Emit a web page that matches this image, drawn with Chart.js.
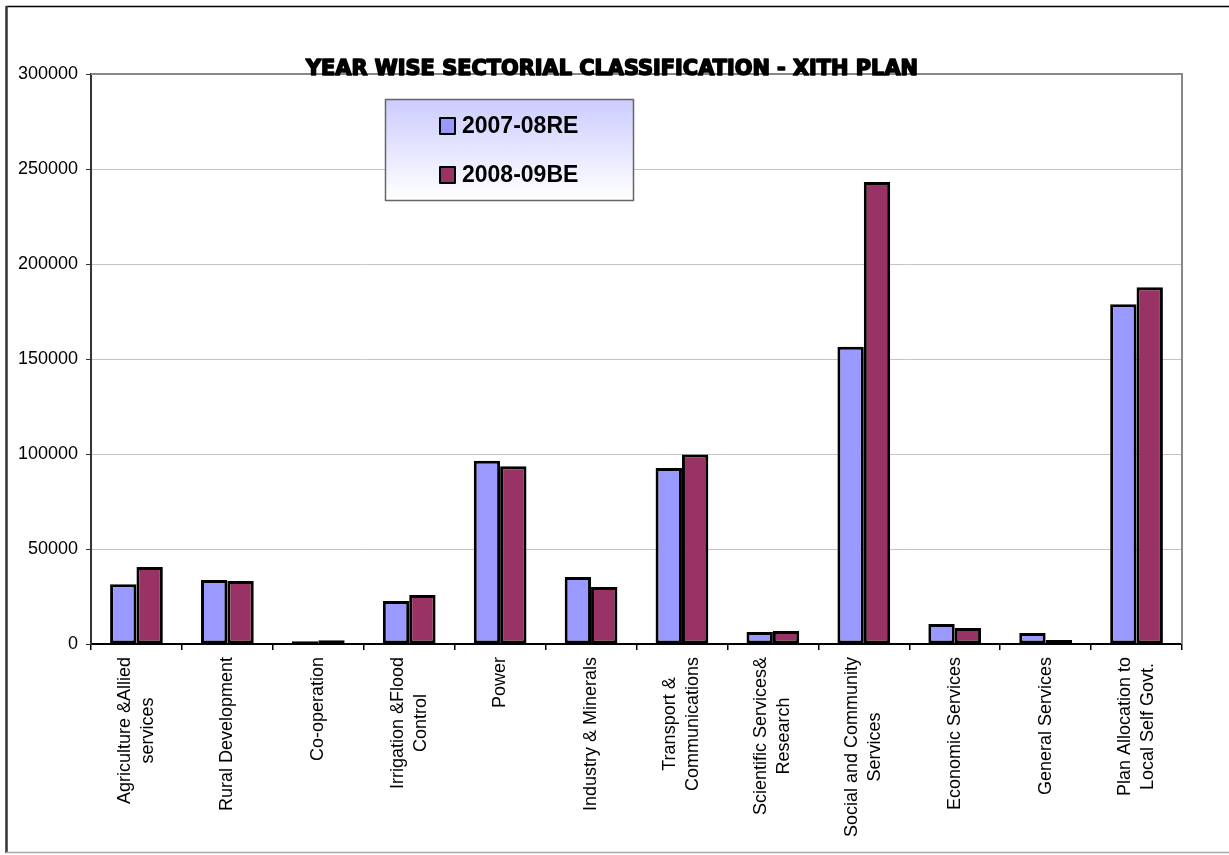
<!DOCTYPE html>
<html>
<head>
<meta charset="utf-8">
<title>Year wise sectorial classification - XIth Plan</title>
<script src="https://cdn.jsdelivr.net/npm/chart.js@4.4.1/dist/chart.umd.min.js"></script>
<style>
  html, body { margin: 0; padding: 0; background: #fff; }
  #wrap { width: 1229px; height: 855px; position: relative; }
</style>
</head>
<body>
<div id="wrap"><canvas id="chart" width="1229" height="855"></canvas></div>
<script>
const chartTitle = "YEAR WISE SECTORIAL CLASSIFICATION - XITH PLAN";

const sectors = [
  ["Agriculture &Allied", "services"],
  ["Rural Development"],
  ["Co-operation"],
  ["Irrigation &Flood", "Control"],
  ["Power"],
  ["Industry & Minerals"],
  ["Transport &", "Communications"],
  ["Scientific Services&", "Research"],
  ["Social and Community", "Services"],
  ["Economic Services"],
  ["General Services"],
  ["Plan Allocation to", "Local Self Govt."],
];

const seriesNames = ["2007-08RE", "2008-09BE"];
const re2007 = [31500, 33700, 1500, 22600, 96500, 35300, 92600, 6300, 156500, 10500, 5800, 178800];
const be2008 = [40500, 33200, 2000, 25800, 93500, 30000, 99800, 6800, 243200, 8400, 2100, 187700];

const yTicks = [0, 50000, 100000, 150000, 200000, 250000, 300000];

const blue = "#9999ff";
const maroon = "#993366";

// frame, plot border, title, legend, x labels
const decor = {
  id: "decor",
  beforeDraw(chart) {
    const ctx = chart.ctx;
    ctx.save();
    ctx.fillStyle = "#fff";
    ctx.fillRect(0, 0, chart.width, chart.height);
    ctx.restore();
  },
  afterDraw(chart) {
    const ctx = chart.ctx;
    const a = chart.chartArea;
    const xs = chart.scales.x;

    ctx.save();
    // outer frame
    ctx.strokeStyle = "#000";
    ctx.lineWidth = 1.5;
    ctx.beginPath();
    ctx.moveTo(1229, 6.5);
    ctx.lineTo(6.5, 6.5);
    ctx.stroke();
    ctx.strokeStyle = "#333";
    ctx.lineWidth = 2.5;
    ctx.beginPath();
    ctx.moveTo(6.5, 6);
    ctx.lineTo(6.5, 853);
    ctx.stroke();
    ctx.strokeStyle = "#aaa";
    ctx.lineWidth = 1.5;
    ctx.beginPath();
    ctx.moveTo(6, 852.5);
    ctx.lineTo(1229, 852.5);
    ctx.stroke();

    // plot top and right border
    ctx.strokeStyle = "#888";
    ctx.lineWidth = 2;
    ctx.beginPath();
    ctx.moveTo(a.left, a.top);
    ctx.lineTo(a.right, a.top);
    ctx.lineTo(a.right, a.bottom);
    ctx.stroke();

    // title (stroked to get the heavy black look)
    ctx.fillStyle = "#000";
    ctx.strokeStyle = "#000";
    ctx.lineWidth = 1.6;
    ctx.lineJoin = "round";
    ctx.font = "bold 21px 'DejaVu Sans'";
    ctx.textAlign = "center";
    ctx.textBaseline = "alphabetic";
    ctx.fillText(chartTitle, 612, 75, 612);
    ctx.strokeText(chartTitle, 612, 75, 612);

    // legend box
    const lx = 385, ly = 99, lw = 248, lh = 101;
    const g = ctx.createLinearGradient(0, ly, 0, ly + lh);
    g.addColorStop(0, "#ccccff");
    g.addColorStop(1, "#ffffff");
    ctx.fillStyle = g;
    ctx.fillRect(lx, ly, lw, lh);
    ctx.strokeStyle = "#666";
    ctx.lineWidth = 1.5;
    ctx.strokeRect(lx + 0.5, ly + 0.5, lw, lh);
    ctx.font = "bold 23px 'Liberation Sans'";
    ctx.textAlign = "left";
    ctx.textBaseline = "middle";
    chart.data.datasets.forEach((ds, i) => {
      const cy = 126 + i * 49;
      ctx.fillStyle = ds.backgroundColor;
      ctx.fillRect(440, cy - 8, 15, 16);
      ctx.strokeStyle = "#000";
      ctx.lineWidth = 2;
      ctx.strokeRect(440, cy - 8, 15, 16);
      ctx.fillStyle = "#000";
      ctx.fillText(ds.label, 462, cy + 1);
    });

    // rotated category labels, lines centred on each other
    ctx.font = "18px 'Liberation Sans'";
    ctx.fillStyle = "#000";
    ctx.textAlign = "center";
    ctx.textBaseline = "middle";
    const lineH = 23;
    chart.data.labels.forEach((lines, i) => {
      const x = xs.getPixelForValue(i);
      const maxW = Math.max(...lines.map((l) => ctx.measureText(l).width));
      ctx.save();
      ctx.translate(x, a.bottom + 13);
      ctx.rotate(-Math.PI / 2);
      lines.forEach((l, j) => {
        ctx.fillText(l, -maxW / 2, (j - (lines.length - 1) / 2) * lineH);
      });
      ctx.restore();
    });
    ctx.restore();
  },
};

new Chart(document.getElementById("chart"), {
  type: "bar",
  data: {
    labels: sectors,
    datasets: [
      { label: seriesNames[0], data: re2007, backgroundColor: blue, borderColor: "#000", borderWidth: 3, borderSkipped: false },
      { label: seriesNames[1], data: be2008, backgroundColor: maroon, borderColor: "#000", borderWidth: 3, borderSkipped: false },
    ],
  },
  options: {
    responsive: false,
    animation: false,
    devicePixelRatio: 1,
    layout: { padding: { left: 0, top: 74, right: 47, bottom: 0 } },
    plugins: {
      legend: { display: false },
      title: { display: false },
      tooltip: { enabled: false },
    },
    datasets: { bar: { categoryPercentage: 0.58, barPercentage: 1.0 } },
    scales: {
      x: {
        afterFit(s) { s.height = 211; },
        grid: { offset: true, drawOnChartArea: false, drawTicks: true, tickLength: 6, tickColor: "#000", lineWidth: 1.5 },
        border: { display: true, color: "#000", width: 2 },
        ticks: { display: false },
      },
      y: {
        min: 0,
        max: 300000,
        afterFit(s) { s.width = 91; },
        afterBuildTicks(s) { s.ticks = yTicks.map((v) => ({ value: v })); },
        grid: { color: "#c4c4c4", lineWidth: 1, tickLength: 5, tickColor: "#333" },
        border: { display: true, color: "#333", width: 2 },
        ticks: {
          color: "#000",
          padding: 8,
          font: { family: "'Liberation Sans'", size: 18 },
          callback: (v) => String(v),
        },
      },
    },
  },
  plugins: [decor],
});
</script>
</body>
</html>
